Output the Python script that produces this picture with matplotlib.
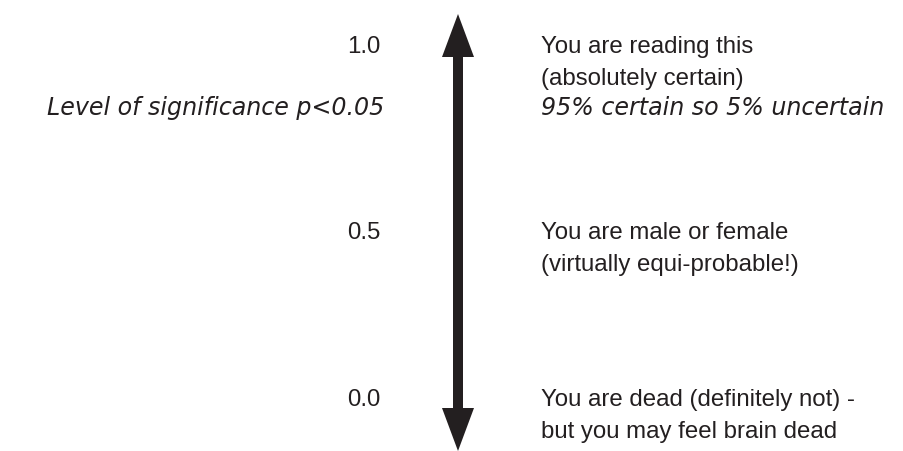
import matplotlib.pyplot as plt
from matplotlib.patches import Polygon

# probability scale labels (left) and what they mean (right)
probs = ['1.0', '0.5', '0.0']
meanings = ['You are reading this\n(absolutely certain)',
            'You are male or female\n(virtually equi-probable!)',
            'You are dead (definitely not) -\nbut you may feel brain dead']
sig_label = 'Level of significance p<0.05'
sig_meaning = '95% certain so 5% uncertain'

ink = '#231f20'
plt.rcParams['font.family'] = ['Liberation Sans', 'DejaVu Sans']

fig = plt.figure(figsize=(9.04, 4.52), dpi=100)
ax = fig.add_axes([0, 0, 1, 1])
ax.set_xlim(0, 904)
ax.set_ylim(452, 0)
ax.axis('off')

# row positions in pixels (top line of each entry)
rows = [47, 233, 400]
sig_row = 108
fs = 17.3
fs_it = 17.1
line_gap = 32

for p, m, y in zip(probs, meanings, rows):
    ax.text(381, y, p, ha='right', va='center', fontsize=fs, color=ink)
    for i, line in enumerate(m.split('\n')):
        ax.text(541, y + i * line_gap, line, ha='left', va='center',
                fontsize=fs, color=ink)

# the italic lines in the original are set wider than the upright ones
ax.text(384, sig_row, sig_label, ha='right', va='center', fontsize=fs_it,
        color=ink, style='italic', family='DejaVu Sans')
ax.text(541, sig_row, sig_meaning, ha='left', va='center', fontsize=fs_it,
        color=ink, style='italic', family='DejaVu Sans')

# double headed arrow
cx, shaft, head_w = 458, 5, 16
top, bot, head_l = 15, 452, 43
pts = [(cx, top), (cx + head_w, top + head_l), (cx + shaft, top + head_l),
       (cx + shaft, bot - head_l), (cx + head_w, bot - head_l), (cx, bot),
       (cx - head_w, bot - head_l), (cx - shaft, bot - head_l),
       (cx - shaft, top + head_l), (cx - head_w, top + head_l)]
ax.add_patch(Polygon(pts, closed=True, facecolor=ink, edgecolor='none'))

fig.savefig('out.png', dpi=100)
